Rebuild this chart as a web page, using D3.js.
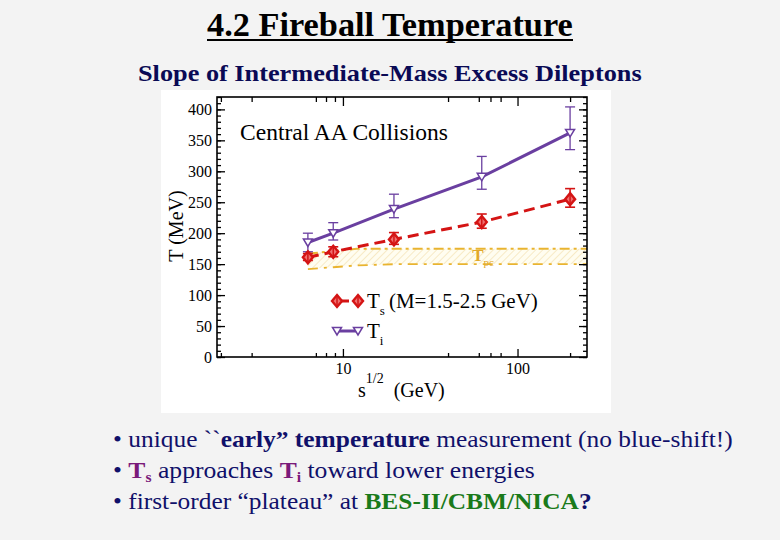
<!DOCTYPE html>
<html><head><meta charset="utf-8">
<script src="https://cdn.jsdelivr.net/npm/d3@7"></script>
<style>
html,body{margin:0;padding:0;background:#f3f3f3;}
svg{display:block;font-family:"Liberation Serif","Times New Roman",serif;}
</style></head>
<body>
<svg id="c" width="780" height="540"></svg>
<script>
// ---- data ----
const energies = [6.3, 8.8, 19.6, 62.4, 200];
const tsValues = [161, 170, 190, 218, 255];
const tsErrUp = [6, 8, 11, 13, 17];
const tsErrDown = [5, 8, 8, 10, 13];
const tiValues = [185, 200, 239, 291, 362];
const tiErrUp = [15, 17, 24, 33, 42];
const tiErrDown = [15, 11, 14, 20, 27];
const bandX = [6.3, 8.8, 12, 20, 250];
const bandLow = [142, 145, 148, 150, 150];
const bandHigh = [167, 171, 175, 175, 175];
const yMajorTicks = [0, 50, 100, 150, 200, 250, 300, 350, 400];
const yMinorTicks = d3.range(0, 421, 10);
const xMajorTicks = [10, 100];
const xMinorTicks = [2, 3, 7, 8, 9, 40, 60, 70, 80, 200];

const svg = d3.select("#c");
const L = 217, R = 587, T = 97, B = 357;
const x = d3.scaleLog().domain([1.9, 250]).range([L, R]);
const y = d3.scaleLinear().domain([0, 420]).range([B, T]);

// horizontal stretch helper (the slide text is wider than the font's natural width)
function stretch(sel, x0, targetW) {
  const w = sel.node().getBBox().width;
  sel.attr("transform", `translate(${x0},0) scale(${targetW / w},1) translate(${-x0},0)`);
}

// page titles
const title = svg.append("text").attr("x", 207).attr("y", 36)
  .attr("font-size", 33).attr("font-weight", "bold").attr("fill", "#000").text("4.2 Fireball Temperature");
stretch(title, 207, 366);
svg.append("line").attr("x1", 207).attr("x2", 573).attr("y1", 40).attr("y2", 40)
  .attr("stroke", "#000").attr("stroke-width", 2);
const sub = svg.append("text").attr("x", 138).attr("y", 81)
  .attr("font-size", 23).attr("font-weight", "bold").attr("fill", "#0a0a55")
  .text("Slope of Intermediate-Mass Excess Dileptons");
stretch(sub, 138, 504);

// white panel
svg.append("rect").attr("x", 161).attr("y", 90).attr("width", 450).attr("height", 323).attr("fill", "#fff");

// hatch pattern
const defs = svg.append("defs");
const pat = defs.append("pattern").attr("id", "hatch").attr("patternUnits", "userSpaceOnUse")
  .attr("width", 5).attr("height", 5).attr("patternTransform", "rotate(45)");
pat.append("rect").attr("width", 5).attr("height", 5).attr("fill", "#fffdf0");
pat.append("line").attr("x1", 0).attr("y1", 0).attr("x2", 0).attr("y2", 5)
  .attr("stroke", "#efd79c").attr("stroke-width", 1);
defs.append("clipPath").attr("id", "clip").append("rect")
  .attr("x", L).attr("y", T).attr("width", R - L).attr("height", B - T);

const plot = svg.append("g").attr("clip-path", "url(#clip)");
const bandIdx = d3.range(bandX.length);
plot.append("path")
  .attr("d", d3.area().x(i => x(bandX[i])).y0(i => y(bandLow[i])).y1(i => y(bandHigh[i]))(bandIdx))
  .attr("fill", "url(#hatch)");
plot.append("path")
  .attr("d", d3.line().x(i => x(bandX[i])).y(i => y(bandHigh[i]))(bandIdx))
  .attr("fill", "none").attr("stroke", "#e9b430").attr("stroke-width", 2).attr("stroke-dasharray", "10,4,3,4");
plot.append("path")
  .attr("d", d3.line().x(i => x(bandX[i])).y(i => y(bandLow[i]))(bandIdx))
  .attr("fill", "none").attr("stroke", "#e9b430").attr("stroke-width", 1.8).attr("stroke-dasharray", "10,6,3,6");
// T_pc label
const tpc = svg.append("text").attr("x", x(55)).attr("y", y(150) - 3).attr("fill", "#e2a82a")
  .attr("font-size", 17).attr("font-weight", "bold");
tpc.append("tspan").text("T");
tpc.append("tspan").attr("font-size", 11).attr("font-weight", "normal").attr("dy", 5).text("pc");

// axes
function clean(g) { g.select(".domain").remove(); g.selectAll("text").attr("font-family", "Liberation Serif").attr("font-size", 16).attr("fill", "#000"); g.selectAll("line").attr("stroke", "#000").attr("stroke-width", 1.3); }
svg.append("g").attr("transform", `translate(${L},0)`)
  .call(d3.axisLeft(y).tickValues(yMinorTicks).tickSize(-4).tickFormat("")).call(clean);
svg.append("g").attr("transform", `translate(${L},0)`)
  .call(d3.axisLeft(y).tickValues(yMajorTicks).tickSize(-8).tickPadding(5)).call(clean);
svg.append("g").attr("transform", `translate(${R},0)`)
  .call(d3.axisRight(y).tickValues(yMinorTicks).tickSize(-4).tickFormat("")).call(clean);
svg.append("g").attr("transform", `translate(${R},0)`)
  .call(d3.axisRight(y).tickValues(yMajorTicks).tickSize(-8).tickFormat("")).call(clean);
svg.append("g").attr("transform", `translate(0,${B})`)
  .call(d3.axisBottom(x).tickValues(xMinorTicks).tickSize(-4).tickFormat("")).call(clean);
svg.append("g").attr("transform", `translate(0,${B})`)
  .call(d3.axisBottom(x).tickValues(xMajorTicks).tickSize(-8).tickPadding(6).tickFormat(d3.format("d"))).call(clean);
svg.append("g").attr("transform", `translate(0,${T})`)
  .call(d3.axisTop(x).tickValues(xMinorTicks).tickSize(-5).tickFormat("")).call(clean);
svg.append("g").attr("transform", `translate(0,${T})`)
  .call(d3.axisTop(x).tickValues(xMajorTicks).tickSize(-9).tickFormat("")).call(clean);
svg.append("rect").attr("x", L).attr("y", T).attr("width", R - L).attr("height", B - T)
  .attr("fill", "none").attr("stroke", "#000").attr("stroke-width", 1.6);

// axis titles
svg.append("text").attr("transform", `translate(183,226) rotate(-90)`).attr("text-anchor", "middle")
  .attr("font-size", 20).text("T (MeV)");
const xt = svg.append("text").attr("x", 358).attr("y", 397).attr("font-size", 20);
xt.append("tspan").text("s");
xt.append("tspan").attr("font-size", 14).attr("dy", -14).attr("dx", 0).text("1/2");
xt.append("tspan").attr("dy", 14).attr("dx", 10).text("(GeV)");

const cen = svg.append("text").attr("x", 240).attr("y", 140).attr("font-size", 22.5).text("Central AA Collisions");
stretch(cen, 240, 208);

// series
const purple = "#6a3fa0", red = "#d41414";
const idx = d3.range(energies.length);
svg.append("path").attr("d", d3.line().x(i => x(energies[i])).y(i => y(tiValues[i]))(idx))
  .attr("fill", "none").attr("stroke", purple).attr("stroke-width", 3);
svg.append("path").attr("d", d3.line().x(i => x(energies[i])).y(i => y(tsValues[i]))(idx))
  .attr("fill", "none").attr("stroke", red).attr("stroke-width", 3).attr("stroke-dasharray", "11,6");

function errBars(vals, up, down, color, w) {
  const g = svg.append("g").attr("stroke", color).attr("stroke-width", w);
  idx.forEach(i => {
    const cx = x(energies[i]);
    g.append("line").attr("x1", cx).attr("x2", cx).attr("y1", y(vals[i] + up[i])).attr("y2", y(vals[i] - down[i]));
    g.append("line").attr("x1", cx - 5).attr("x2", cx + 5).attr("y1", y(vals[i] + up[i])).attr("y2", y(vals[i] + up[i]));
    g.append("line").attr("x1", cx - 5).attr("x2", cx + 5).attr("y1", y(vals[i] - down[i])).attr("y2", y(vals[i] - down[i]));
  });
}
errBars(tiValues, tiErrUp, tiErrDown, purple, 1.3);
errBars(tsValues, tsErrUp, tsErrDown, red, 1.6);

const diamond = "M0,-6L5,0L0,6L-5,0Z";
const tri = "M-4.5,-3.5L4.5,-3.5L0,4Z";
function drawDiamond(cx, cy) {
  svg.append("path").attr("d", diamond).attr("transform", `translate(${cx},${cy})`)
    .attr("fill", "#f07070").attr("stroke", red).attr("stroke-width", 2.4);
  svg.append("line").attr("x1", cx).attr("x2", cx).attr("y1", cy - 6).attr("y2", cy + 6).attr("stroke", red).attr("stroke-width", 1.5);
}
function drawTri(cx, cy) {
  svg.append("path").attr("d", tri).attr("transform", `translate(${cx},${cy})`)
    .attr("fill", "#fff").attr("stroke", purple).attr("stroke-width", 1.5);
}
idx.forEach(i => { drawTri(x(energies[i]), y(tiValues[i])); drawDiamond(x(energies[i]), y(tsValues[i])); });

// legend
const ly1 = 301, ly2 = 331;
svg.append("line").attr("x1", 337).attr("x2", 358).attr("y1", ly1).attr("y2", ly1)
  .attr("stroke", red).attr("stroke-width", 3).attr("stroke-dasharray", "8,5").attr("stroke-dashoffset", -4);
drawDiamond(337, ly1); drawDiamond(358, ly1);
svg.append("line").attr("x1", 337).attr("x2", 358).attr("y1", ly2).attr("y2", ly2)
  .attr("stroke", purple).attr("stroke-width", 3);
drawTri(337, ly2); drawTri(358, ly2);
const l1 = svg.append("text").attr("x", 367).attr("y", ly1 + 7).attr("font-size", 21);
l1.append("tspan").text("T");
l1.append("tspan").attr("font-size", 13).attr("dy", 7).text("s");
l1.append("tspan").attr("dy", -7).attr("dx", 4).text("(M=1.5-2.5 GeV)");
const l2 = svg.append("text").attr("x", 367).attr("y", ly2 + 7).attr("font-size", 21);
l2.append("tspan").text("T");
l2.append("tspan").attr("font-size", 13).attr("dy", 7).text("i");

// bullets
const navy = "#10106a", mag = "#7a1a7a", green = "#1a7a1a";
const b1 = svg.append("text").attr("x", 113).attr("y", 447).attr("font-size", 23).attr("fill", navy);
b1.append("tspan").text("• unique ``");
b1.append("tspan").attr("font-weight", "bold").text("early” temperature");
b1.append("tspan").text(" measurement (no blue-shift!)");
stretch(b1, 113, 620);
const b2 = svg.append("text").attr("x", 113).attr("y", 478).attr("font-size", 23).attr("fill", navy);
b2.append("tspan").text("• ");
b2.append("tspan").attr("font-weight", "bold").attr("fill", mag).text("T");
b2.append("tspan").attr("font-weight", "bold").attr("fill", mag).attr("font-size", 14).attr("dy", 4).text("s");
b2.append("tspan").attr("dy", -4).text(" approaches ");
b2.append("tspan").attr("font-weight", "bold").attr("fill", mag).text("T");
b2.append("tspan").attr("font-weight", "bold").attr("fill", mag).attr("font-size", 14).attr("dy", 4).text("i");
b2.append("tspan").attr("dy", -4).text(" toward lower energies");
stretch(b2, 113, 422);
const b3 = svg.append("text").attr("x", 113).attr("y", 509).attr("font-size", 23).attr("fill", navy);
b3.append("tspan").text("• first-order “plateau” at ");
b3.append("tspan").attr("font-weight", "bold").attr("fill", green).text("BES-II/CBM/NICA");
b3.append("tspan").attr("font-weight", "bold").text("?");
stretch(b3, 113, 479);
</script>
</body></html>
